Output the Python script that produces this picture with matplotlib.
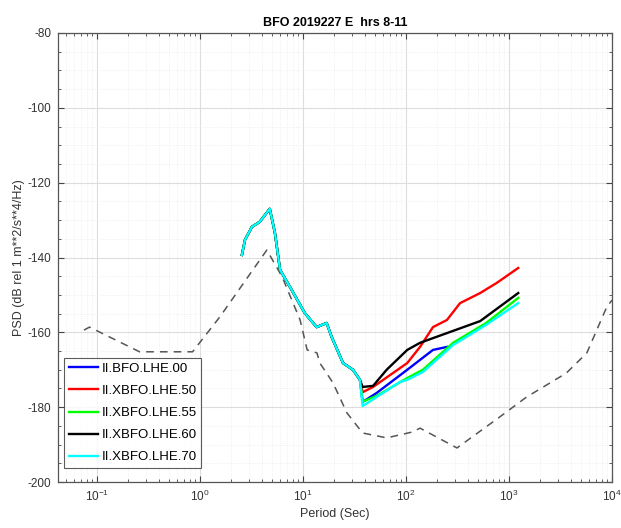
import matplotlib.pyplot as plt
import numpy as np
from matplotlib.ticker import LogLocator, MultipleLocator, NullFormatter

# dashed reference noise model (period s, dB)
REF_T = [0.075, 0.085, 0.26, 0.85, 1.56, 4.47, 6.3, 9.4, 11, 13.7, 14.6, 19.6,
         26.7, 38, 65, 117, 137, 313, 815, 1480, 3600, 5700, 8900, 10000]
REF_DB = [-159.4, -158.6, -165.2, -165.2, -155.9, -138.0, -145.2, -156.7, -164.7,
          -165.5, -168.2, -173.5, -181.5, -186.9, -188.2, -186.6, -185.6, -190.9,
          -182.6, -177.3, -170.9, -165.5, -153.2, -151.4]

# common short-period part shared by all channels
COMMON_T = [2.56, 2.74, 3.2, 3.8, 4.77, 5.35, 6.0, 7.5, 10.4, 13.6, 17, 19, 24.5, 30.6, 35.8]
COMMON_DB = [-139.3, -135.3, -131.8, -130.5, -127.0, -133.4, -143.3, -147.9, -154.8,
             -158.6, -157.5, -161.2, -168.2, -170.0, -172.7]

BFO00_T = [38, 52, 103, 183, 250]
BFO00_DB = [-178.6, -176.2, -170.0, -164.7, -163.9]

XBFO50_T = [38, 48, 103, 137, 183, 250, 335, 525, 760, 1230]
XBFO50_DB = [-176.0, -174.6, -168.2, -163.9, -158.6, -156.7, -152.2, -149.5, -146.8, -142.8]

XBFO55_T = [38, 52, 103, 146, 287, 600, 1230]
XBFO55_DB = [-178.5, -177.0, -172.2, -170.0, -162.8, -157.5, -150.8]

XBFO60_T = [38, 48, 65, 103, 137, 250, 525, 1230]
XBFO60_DB = [-174.6, -174.3, -170.0, -164.7, -162.8, -160.2, -157.0, -149.5]

XBFO70_T = [38, 52, 87, 103, 146, 287, 600, 1230]
XBFO70_DB = [-179.7, -177.3, -173.3, -172.7, -170.6, -163.4, -158.0, -152.2]

CHANNELS = [
    ("II.BFO.LHE.00", BFO00_T, BFO00_DB, "#0000ff"),
    ("II.XBFO.LHE.50", XBFO50_T, XBFO50_DB, "#ff0000"),
    ("II.XBFO.LHE.55", XBFO55_T, XBFO55_DB, "#00ff00"),
    ("II.XBFO.LHE.60", XBFO60_T, XBFO60_DB, "#000000"),
    ("II.XBFO.LHE.70", XBFO70_T, XBFO70_DB, "#00ffff"),
]

plt.rcParams["font.family"] = ["Liberation Sans", "DejaVu Sans"]
plt.rcParams["axes.unicode_minus"] = False

fig = plt.figure(figsize=(6.21, 5.28), dpi=100)
ax = fig.add_axes([0.0934, 0.0871, 0.8921, 0.8504])

ax.plot(REF_T, REF_DB, ls=(0, (5, 4)), color="#555555", lw=1.1, zorder=2)

for label, t, db, color in CHANNELS:
    tt = COMMON_T + t
    dd = COMMON_DB + db
    ax.plot(tt, dd, color=color, lw=1.7, label=label, zorder=3)

ax.set_xscale("log")
ax.set_xlim(0.042, 1e4)
ax.set_ylim(-200, -80)
ax.yaxis.set_major_locator(MultipleLocator(20))
ax.yaxis.set_minor_locator(MultipleLocator(5))
ax.xaxis.set_minor_locator(LogLocator(base=10, subs=np.arange(2, 10), numticks=20))
ax.xaxis.set_minor_formatter(NullFormatter())

ax.grid(True, which="major", color="#dddddd", lw=0.8)
ax.grid(True, which="minor", color="#e8e8e8", lw=0.5, ls=":")
ax.set_axisbelow(True)
ax.tick_params(which="both", direction="in", top=True, right=True, colors="#444444",
               labelsize=8.5, labelcolor="#333333")
ax.tick_params(which="major", length=4, pad=5)
ax.tick_params(which="minor", length=2)
for s in ax.spines.values():
    s.set_color("#555555")
    s.set_linewidth(0.9)

ax.set_title("BFO 2019227 E  hrs 8-11", fontsize=9, fontweight="bold", pad=5)
ax.set_xlabel("Period (Sec)", fontsize=9, labelpad=3, color="#333333")
ax.set_ylabel("PSD (dB rel 1 m**2/s**4/Hz)", fontsize=9, labelpad=2, color="#333333")

leg = ax.legend(loc="lower left", bbox_to_anchor=(0.011, 0.031), borderaxespad=0,
                fontsize=9.5, frameon=True, fancybox=False,
                handlelength=2.2, handletextpad=0.3, borderpad=0.35, labelspacing=0.75)
leg.get_frame().set_edgecolor("#333333")
leg.get_frame().set_linewidth(0.8)

fig.savefig("out.png", dpi=100)
